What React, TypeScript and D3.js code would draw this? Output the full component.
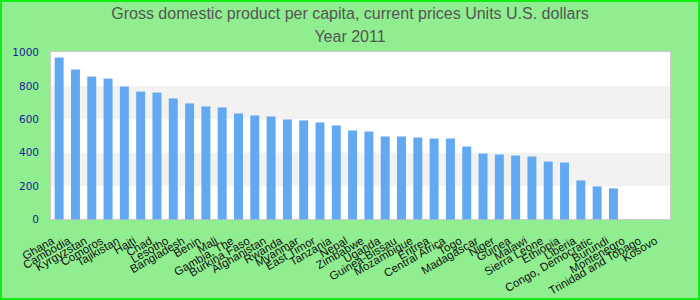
import React from "react";
import * as d3 from "d3";

const categories: string[] = [
  "Ghana", "Cambodia", "Kyrgyzstan", "Comoros", "Tajikistan", "Haiti", "Chad", "Lesotho",
  "Bangladesh", "Benin", "Mali", "Gambia, The", "Burkina Faso", "Afghanistan", "Rwanda",
  "Myanmar", "East Timor", "Tanzania", "Nepal", "Zimbabwe", "Uganda", "Guinea-Bissau",
  "Mozambique", "Eritrea", "Central Africa", "Togo", "Madagascar", "Niger", "Guinea",
  "Malawi", "Sierra Leone", "Ethiopia", "Liberia", "Congo, Democratic", "Burundi",
  "Montenegro", "Trinidad and Tobago", "Kosovo",
];

const values: (number | null)[] = [
  970, 898, 856, 844, 796, 766, 760, 725, 695, 677, 671, 635, 623, 617, 599, 593, 581, 563,
  533, 527, 497, 497, 491, 485, 485, 437, 395, 389, 383, 377, 347, 341, 234, 198, 186,
  null, null, null,
];

const yTicks: number[] = [0, 200, 400, 600, 800, 1000];
const bands: [number, number][] = [[200, 400], [600, 800]];
const titleLines: string[] = [
  "Gross domestic product per capita, current prices Units U.S. dollars",
  "Year 2011",
];

const W = 700;
const H = 300;
const plot = { left: 50.5, right: 670.5, top: 51.5, bottom: 219.5 };

export default function App() {
  const x = d3
    .scaleBand<string>()
    .domain(categories)
    .range([51, 670.5])
    .paddingInner(0.45)
    .paddingOuter(0.225);
  const y = d3.scaleLinear().domain([0, 1000]).range([219.5, 52.5]);

  return (
    <svg
      width={W}
      height={H}
      style={{ position: "absolute", left: 0, top: 0, display: "block" }}
    >
      <rect x={1} y={1} width={W - 2} height={H - 2} fill="#90ee90" stroke="#11ee11" strokeWidth={2} />
      {titleLines.map((t, i) => (
        <text
          key={i}
          x={W / 2}
          y={19 + i * 23}
          textAnchor="middle"
          fontFamily="Liberation Sans, Arial, sans-serif"
          fontSize={16}
          fill="#555555"
        >
          {t}
        </text>
      ))}
      <rect
        x={plot.left}
        y={plot.top}
        width={plot.right - plot.left}
        height={plot.bottom - plot.top}
        fill="#ffffff"
        stroke="#cccccc"
        strokeWidth={1}
      />
      {bands.map(([a, b], i) => (
        <rect
          key={i}
          x={plot.left + 0.5}
          y={y(b)}
          width={plot.right - plot.left - 1}
          height={y(a) - y(b)}
          fill="#f2f2f2"
        />
      ))}
      {categories.map((c, i) => {
        const v = values[i];
        if (v == null) return null;
        return (
          <rect
            key={c}
            x={x(c)}
            y={y(v)}
            width={x.bandwidth()}
            height={y(0) - y(v)}
            fill="#62a9f2"
          />
        );
      })}
      {yTicks.map((t) => (
        <text
          key={t}
          x={39}
          y={y(t)}
          dy="0.35em"
          textAnchor="end"
          fontFamily="DejaVu Sans, sans-serif"
          fontSize={10.5}
          fill="#1a1a99"
        >
          {t}
        </text>
      ))}
      {categories.map((c) => {
        const cx = (x(c) ?? 0) + x.bandwidth() / 2;
        return (
          <text
            key={c}
            transform={`translate(${cx - 4},243) rotate(-30)`}
            textAnchor="end"
            fontFamily="Liberation Sans, Arial, sans-serif"
            fontSize={11.5}
            fill="#111111"
          >
            {c}
          </text>
        );
      })}
    </svg>
  );
}
